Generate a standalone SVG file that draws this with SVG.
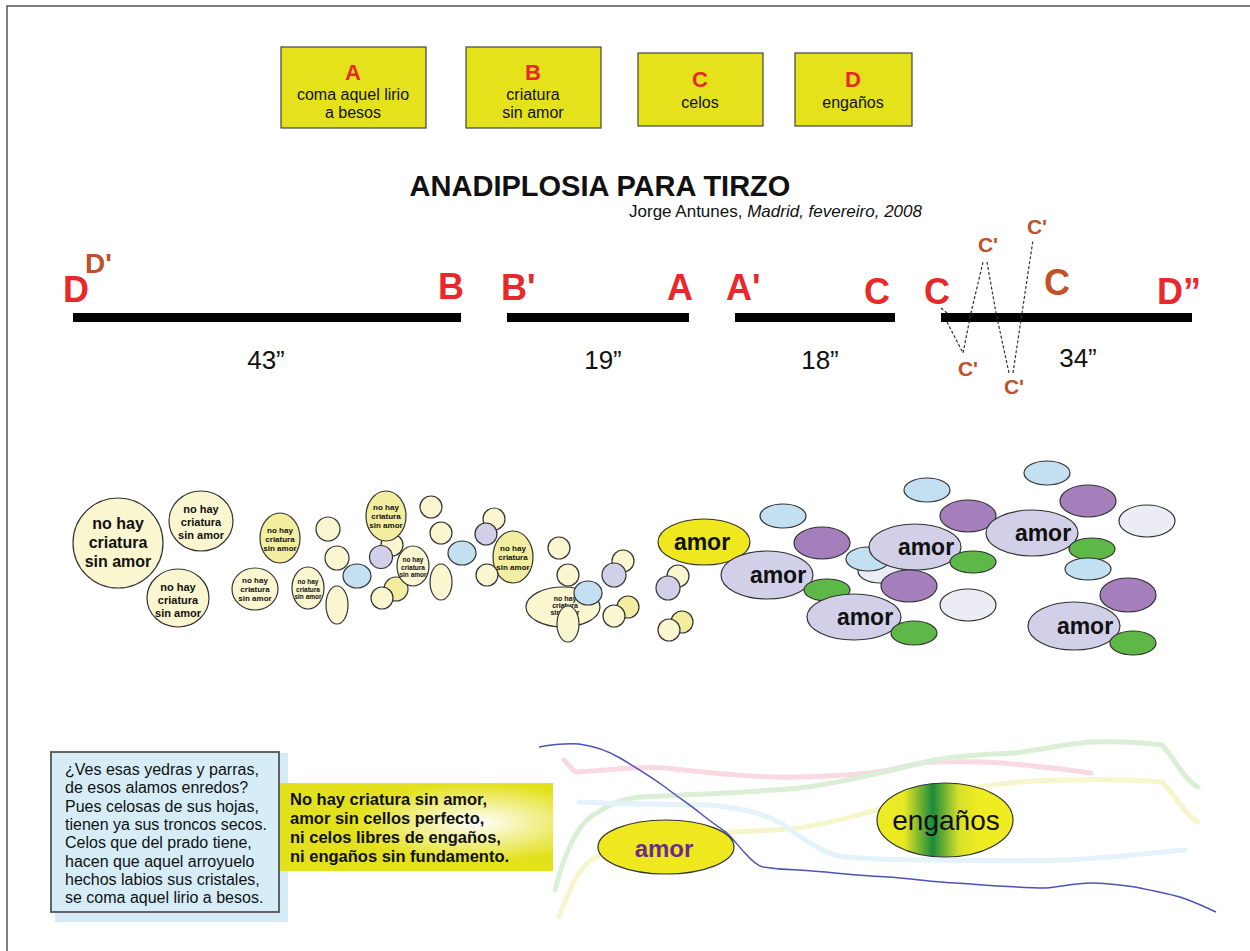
<svg xmlns="http://www.w3.org/2000/svg" width="1250" height="951" viewBox="0 0 1250 951">
<defs>
<radialGradient id="glow" cx="0.72" cy="0.45" r="0.45">
<stop offset="0" stop-color="#ffffff"/>
<stop offset="0.25" stop-color="#f8f7c8"/>
<stop offset="1" stop-color="#e3e11b"/>
</radialGradient>
<linearGradient id="eng" x1="0" y1="0" x2="1" y2="0">
<stop offset="0" stop-color="#efec22"/>
<stop offset="0.2" stop-color="#e8e824"/>
<stop offset="0.41" stop-color="#1b8a3c"/>
<stop offset="0.6" stop-color="#d6df2a"/>
<stop offset="0.75" stop-color="#f0ec22"/>
<stop offset="1" stop-color="#f0ec22"/>
</linearGradient>
<style>
text{font-family:"Liberation Sans",Arial,sans-serif}
.box{fill:#e5e21b;stroke:#444;stroke-width:1.2}
.red{fill:#e8282a;font-weight:bold}
.brn{fill:#c0512a;font-weight:bold}
.bl{fill:#111}
.b{font-weight:bold}
.bar{fill:#000}
.dash{stroke:#333;stroke-width:1.2;stroke-dasharray:3 2;fill:none}
.e{stroke:#333;stroke-width:1.2}
.pale{fill:#faf6d0}
.sat{fill:#f3eda0}
.lb{fill:#c3e0f2}
.lav{fill:#d2d0e8}
.pur{fill:#a57fbc}
.grn{fill:#5db847}
.wht{fill:#ececf5}
.yel{fill:#f0e81e}
.bt{font-weight:bold;fill:#111;text-anchor:middle}
.amor{font-weight:bold;font-size:23px;fill:#111;text-anchor:middle}
.pst{fill:none;stroke-width:5;stroke-linecap:round;stroke-linejoin:round}
</style>
</defs>
<rect x="7" y="6" width="1260" height="960" fill="#fff" stroke="#555" stroke-width="1.5"/>

<g id="box-A">
<rect class="box" x="281" y="47" width="145" height="81"/>
<text class="red" x="353" y="80" font-size="22" text-anchor="middle">A</text>
<text class="bl" x="353" y="100" font-size="16" text-anchor="middle">coma aquel lirio</text>
<text class="bl" x="353" y="118" font-size="16" text-anchor="middle">a besos</text>
</g>
<g id="box-B">
<rect class="box" x="466" y="47" width="135" height="81"/>
<text class="red" x="533" y="80" font-size="22" text-anchor="middle">B</text>
<text class="bl" x="533" y="100" font-size="16" text-anchor="middle">criatura</text>
<text class="bl" x="533" y="118" font-size="16" text-anchor="middle">sin amor</text>
</g>
<g id="box-C">
<rect class="box" x="638" y="53" width="125" height="73"/>
<text class="red" x="700" y="87" font-size="22" text-anchor="middle">C</text>
<text class="bl" x="700" y="108" font-size="16" text-anchor="middle">celos</text>
</g>
<g id="box-D">
<rect class="box" x="795" y="53" width="117" height="73"/>
<text class="red" x="853" y="87" font-size="22" text-anchor="middle">D</text>
<text class="bl" x="853" y="108" font-size="16" text-anchor="middle">engaños</text>
</g>

<g id="title">
<text x="600" y="196" font-size="29" font-weight="bold" text-anchor="middle" fill="#111">ANADIPLOSIA PARA TIRZO</text>
<text x="922" y="217" font-size="17" text-anchor="end" fill="#111">Jorge Antunes, <tspan font-style="italic">Madrid, fevereiro, 2008</tspan></text>
</g>

<g id="segment-1">
<rect class="bar" x="73" y="313" width="388" height="9"/>
<text class="red" x="63" y="302" font-size="36">D</text>
<text class="brn" x="85" y="273" font-size="28">D'</text>
<text class="red" x="438" y="299" font-size="36">B</text>
<text x="266" y="369" font-size="26" text-anchor="middle" fill="#111">43”</text>
</g>
<g id="segment-2">
<rect class="bar" x="507" y="313" width="182" height="9"/>
<text class="red" x="501" y="300" font-size="36">B'</text>
<text class="red" x="667" y="300" font-size="36">A</text>
<text x="603" y="369" font-size="26" text-anchor="middle" fill="#111">19”</text>
</g>
<g id="segment-3">
<rect class="bar" x="735" y="313" width="160" height="9"/>
<text class="red" x="726" y="300" font-size="36">A'</text>
<text class="red" x="864" y="304" font-size="36">C</text>
<text x="820" y="369" font-size="26" text-anchor="middle" fill="#111">18”</text>
</g>
<g id="segment-4">
<rect class="bar" x="941" y="313" width="251" height="9"/>
<text class="red" x="924" y="304" font-size="36">C</text>
<text class="brn" x="1044" y="295" font-size="36">C</text>
<text class="red" x="1157" y="304" font-size="36">D”</text>
<text x="1078" y="367" font-size="26" text-anchor="middle" fill="#111">34”</text>
<text class="brn" x="988" y="252" font-size="21" text-anchor="middle">C'</text>
<text class="brn" x="1037" y="234" font-size="21" text-anchor="middle">C'</text>
<text class="brn" x="968" y="376" font-size="21" text-anchor="middle">C'</text>
<text class="brn" x="1014" y="394" font-size="21" text-anchor="middle">C'</text>
</g>

<g id="connectors">
<path class="dash" d="M941,308 L947,313 M947,322 L963,353 L971,313 L983,262"/>
<path class="dash" d="M987,262 L996,313 L1009,373"/>
<path class="dash" d="M1013,373 L1022,313 L1033,240"/>
</g>

<g id="bubbles-criatura">
<g id="criatura-big">
<circle class="e pale" cx="118" cy="543" r="45"/>
<text class="bt" font-size="16"><tspan x="118" y="529">no hay</tspan><tspan x="118" y="548">criatura</tspan><tspan x="118" y="567">sin amor</tspan></text>
</g>
<g id="criatura-2">
<ellipse class="e pale" cx="201" cy="521" rx="32" ry="30"/>
<text class="bt" font-size="11"><tspan x="201" y="513">no hay</tspan><tspan x="201" y="526">criatura</tspan><tspan x="201" y="539">sin amor</tspan></text>
</g>
<g id="criatura-3">
<ellipse class="e pale" cx="178" cy="598" rx="31" ry="29"/>
<text class="bt" font-size="11"><tspan x="178" y="591">no hay</tspan><tspan x="178" y="604">criatura</tspan><tspan x="178" y="617">sin amor</tspan></text>
</g>
<g id="criatura-4">
<ellipse class="e sat" cx="280" cy="538" rx="20" ry="25"/>
<text class="bt" font-size="8"><tspan x="280" y="533">no hay</tspan><tspan x="280" y="542">criatura</tspan><tspan x="280" y="551">sin amor</tspan></text>
</g>
<g id="criatura-5">
<ellipse class="e pale" cx="255" cy="589" rx="23" ry="21"/>
<text class="bt" font-size="8"><tspan x="255" y="583">no hay</tspan><tspan x="255" y="592">criatura</tspan><tspan x="255" y="601">sin amor</tspan></text>
</g>
<g id="criatura-6">
<ellipse class="e pale" cx="308" cy="588" rx="16" ry="21"/>
<text class="bt" font-size="6.5"><tspan x="308" y="584">no hay</tspan><tspan x="308" y="591.5">criatura</tspan><tspan x="308" y="599">sin amor</tspan></text>
</g>
<circle class="e pale" cx="328" cy="529" r="12"/>
<circle class="e pale" cx="337" cy="558" r="12"/>
<ellipse class="e pale" cx="337" cy="605" rx="11" ry="19"/>
<ellipse class="e lb" cx="357" cy="576" rx="14" ry="12"/>
<circle class="e pale" cx="392" cy="545" r="11"/>
<g id="criatura-7">
<ellipse class="e sat" cx="386" cy="516" rx="20" ry="25"/>
<text class="bt" font-size="8"><tspan x="386" y="510">no hay</tspan><tspan x="386" y="519">criatura</tspan><tspan x="386" y="528">sin amor</tspan></text>
</g>
<circle class="e lav" cx="381" cy="557" r="11.5"/>
<circle class="e sat" cx="396" cy="589" r="12"/>
<circle class="e pale" cx="382" cy="598" r="11"/>
<g id="criatura-8">
<ellipse class="e pale" cx="413" cy="566" rx="16" ry="20"/>
<text class="bt" font-size="6.5"><tspan x="413" y="562">no hay</tspan><tspan x="413" y="569.5">criatura</tspan><tspan x="413" y="577">sin amor</tspan></text>
</g>
<circle class="e pale" cx="431" cy="507" r="11"/>
<circle class="e pale" cx="441" cy="533" r="11"/>
<ellipse class="e lb" cx="462" cy="553" rx="14" ry="12"/>
<ellipse class="e pale" cx="441" cy="582" rx="11" ry="18"/>
<circle class="e pale" cx="494" cy="519" r="11"/>
<circle class="e lav" cx="486" cy="534" r="11"/>
<g id="criatura-9">
<ellipse class="e sat" cx="513" cy="557" rx="20" ry="26"/>
<text class="bt" font-size="8"><tspan x="513" y="551">no hay</tspan><tspan x="513" y="560">criatura</tspan><tspan x="513" y="570">sin amor</tspan></text>
</g>
<circle class="e pale" cx="487" cy="575" r="11"/>
<circle class="e pale" cx="559" cy="548" r="11"/>
<circle class="e pale" cx="568" cy="575" r="11"/>
<circle class="e pale" cx="623" cy="561" r="11"/>
<circle class="e lav" cx="614" cy="575" r="12"/>
<g id="criatura-10">
<ellipse class="e pale" cx="563" cy="607" rx="37" ry="20"/>
<text class="bt" font-size="7"><tspan x="565" y="601">no hay</tspan><tspan x="565" y="608">criatura</tspan><tspan x="565" y="615">sin amor</tspan></text>
</g>
<ellipse class="e lb" cx="588" cy="593" rx="14" ry="12"/>
<ellipse class="e pale" cx="568" cy="624" rx="11" ry="18"/>
<circle class="e sat" cx="628" cy="607" r="11"/>
<circle class="e pale" cx="614" cy="616" r="11"/>
<circle class="e pale" cx="678" cy="576" r="11"/>
<circle class="e lav" cx="668" cy="588" r="12"/>
<circle class="e sat" cx="682" cy="622" r="11"/>
<circle class="e pale" cx="669" cy="630" r="11"/>
</g>

<g id="bubbles-amor">
<g id="amor-yellow">
<ellipse class="e yel" cx="704" cy="542" rx="46" ry="23"/>
<text class="amor" x="702" y="550">amor</text>
</g>
<ellipse class="e lb" cx="783" cy="516" rx="23" ry="12"/>
<ellipse class="e pur" cx="822" cy="543" rx="28" ry="16"/>
<g id="amor-1">
<ellipse class="e lav" cx="767" cy="575" rx="46" ry="24"/>
<text class="amor" x="778" y="583">amor</text>
</g>
<ellipse class="e grn" cx="827" cy="590" rx="23" ry="11"/>
<g id="amor-2">
<ellipse class="e lav" cx="854" cy="617" rx="47" ry="23"/>
<text class="amor" x="865" y="625">amor</text>
</g>
<ellipse class="e grn" cx="914" cy="633" rx="23" ry="12"/>
<ellipse class="e wht" cx="880" cy="571" rx="22" ry="12"/>
<ellipse class="e lb" cx="868" cy="559" rx="22" ry="12"/>
<ellipse class="e pur" cx="968" cy="516" rx="28" ry="16"/>
<ellipse class="e lb" cx="927" cy="490" rx="23" ry="12"/>
<g id="amor-3">
<ellipse class="e lav" cx="915" cy="547" rx="46" ry="23"/>
<text class="amor" x="926" y="555">amor</text>
</g>
<ellipse class="e pur" cx="909" cy="586" rx="28" ry="16"/>
<ellipse class="e grn" cx="973" cy="562" rx="23" ry="11"/>
<ellipse class="e wht" cx="968" cy="605" rx="28" ry="16"/>
<ellipse class="e lb" cx="1047" cy="473" rx="23" ry="12"/>
<ellipse class="e pur" cx="1088" cy="501" rx="28" ry="16"/>
<ellipse class="e wht" cx="1147" cy="521" rx="28" ry="16"/>
<g id="amor-4">
<ellipse class="e lav" cx="1032" cy="533" rx="46" ry="23"/>
<text class="amor" x="1043" y="541">amor</text>
</g>
<ellipse class="e grn" cx="1092" cy="549" rx="23" ry="11"/>
<ellipse class="e lb" cx="1088" cy="569" rx="23" ry="11"/>
<ellipse class="e pur" cx="1128" cy="595" rx="28" ry="17"/>
<g id="amor-5">
<ellipse class="e lav" cx="1074" cy="626" rx="46" ry="24"/>
<text class="amor" x="1085" y="634">amor</text>
</g>
<ellipse class="e grn" cx="1133" cy="643" rx="23" ry="12"/>
</g>

<g id="poem-box">
<rect x="55" y="753" width="233" height="169" fill="#d4ebf6"/>
<rect x="51" y="752" width="228" height="160" fill="#d6edf8" stroke="#555" stroke-width="1.8"/>
<text font-size="16" fill="#111">
<tspan x="65" y="775">¿Ves esas yedras y parras,</tspan>
<tspan x="65" y="793.3">de esos alamos enredos?</tspan>
<tspan x="65" y="811.6">Pues celosas de sus hojas,</tspan>
<tspan x="65" y="829.9">tienen ya sus troncos secos.</tspan>
<tspan x="65" y="848.2">Celos que del prado tiene,</tspan>
<tspan x="65" y="866.5">hacen que aquel arroyuelo</tspan>
<tspan x="65" y="884.8">hechos labios sus cristales,</tspan>
<tspan x="65" y="903.1">se coma aquel lirio a besos.</tspan>
</text>
</g>

<g id="quote-box">
<rect x="280" y="783" width="273" height="88" fill="url(#glow)"/>
<text font-size="16.5" font-weight="bold" fill="#111">
<tspan x="290" y="805">No hay criatura sin amor,</tspan>
<tspan x="290" y="824">amor sin cellos perfecto,</tspan>
<tspan x="290" y="843">ni celos libres de engaños,</tspan>
<tspan x="290" y="862">ni engaños sin fundamento.</tspan>
</text>
</g>

<g id="streams">
<path class="pst" stroke="#f9dae3" d="M564,760 L575,772 C610,770 640,766 665,768 C720,774 760,778 799,777 C840,776 870,774 889,770 C905,766 920,762 934,762 C960,762 980,761 1001,763 C1040,766 1070,770 1091,773"/>
<path class="pst" stroke="#dbeed6" d="M555,890 C565,850 580,820 597,813 C615,800 630,798 642,797 C700,794 760,792 799,788 C850,782 900,768 934,760 C960,755 990,754 1014,753 C1040,750 1065,744 1091,742 C1120,741 1140,742 1162,745 C1175,760 1185,780 1198,787"/>
<path class="pst" stroke="#f7f5cc" d="M559,917 C570,885 582,862 597,857 C615,845 630,838 642,837 C700,832 760,832 799,828 C840,822 865,812 889,807 C920,798 950,790 978,787 C1010,782 1040,780 1068,780 C1100,779 1135,780 1162,782 C1175,795 1185,815 1198,822"/>
<path class="pst" stroke="#e4f2f9" d="M579,802 C620,804 670,804 709,805 C740,808 760,812 781,823 C805,840 825,855 844,857 C880,860 910,860 934,860 C980,861 1030,861 1068,860 C1110,858 1150,853 1185,850"/>
<path fill="none" stroke="#4a54b8" stroke-width="1.5" d="M539,747 C555,744 565,743 579,744 C595,746 608,751 620,758 C635,767 650,776 665,787 C678,797 690,805 700,813 C710,821 720,828 727,833 C734,840 740,848 745,853 C752,861 758,866 763,867 C775,869 788,870 799,870 C830,872 860,876 889,877 C915,879 935,882 956,883 C985,885 1020,888 1046,888 C1060,887 1075,883 1091,883 C1105,883 1120,885 1135,887 C1150,890 1165,893 1180,897 C1195,902 1205,907 1216,912"/>
</g>

<g id="amor-bottom">
<ellipse cx="666" cy="847" rx="68" ry="27" fill="#f0e81e" stroke="#333" stroke-width="1.2"/>
<text x="664" y="857" font-size="24" font-weight="bold" fill="#6b2d86" text-anchor="middle">amor</text>
</g>
<g id="enganos-bottom">
<ellipse cx="945" cy="820" rx="68" ry="37" fill="url(#eng)" stroke="#333" stroke-width="1.2"/>
<text x="946" y="830" font-size="28" fill="#111" text-anchor="middle">engaños</text>
</g>
</svg>
